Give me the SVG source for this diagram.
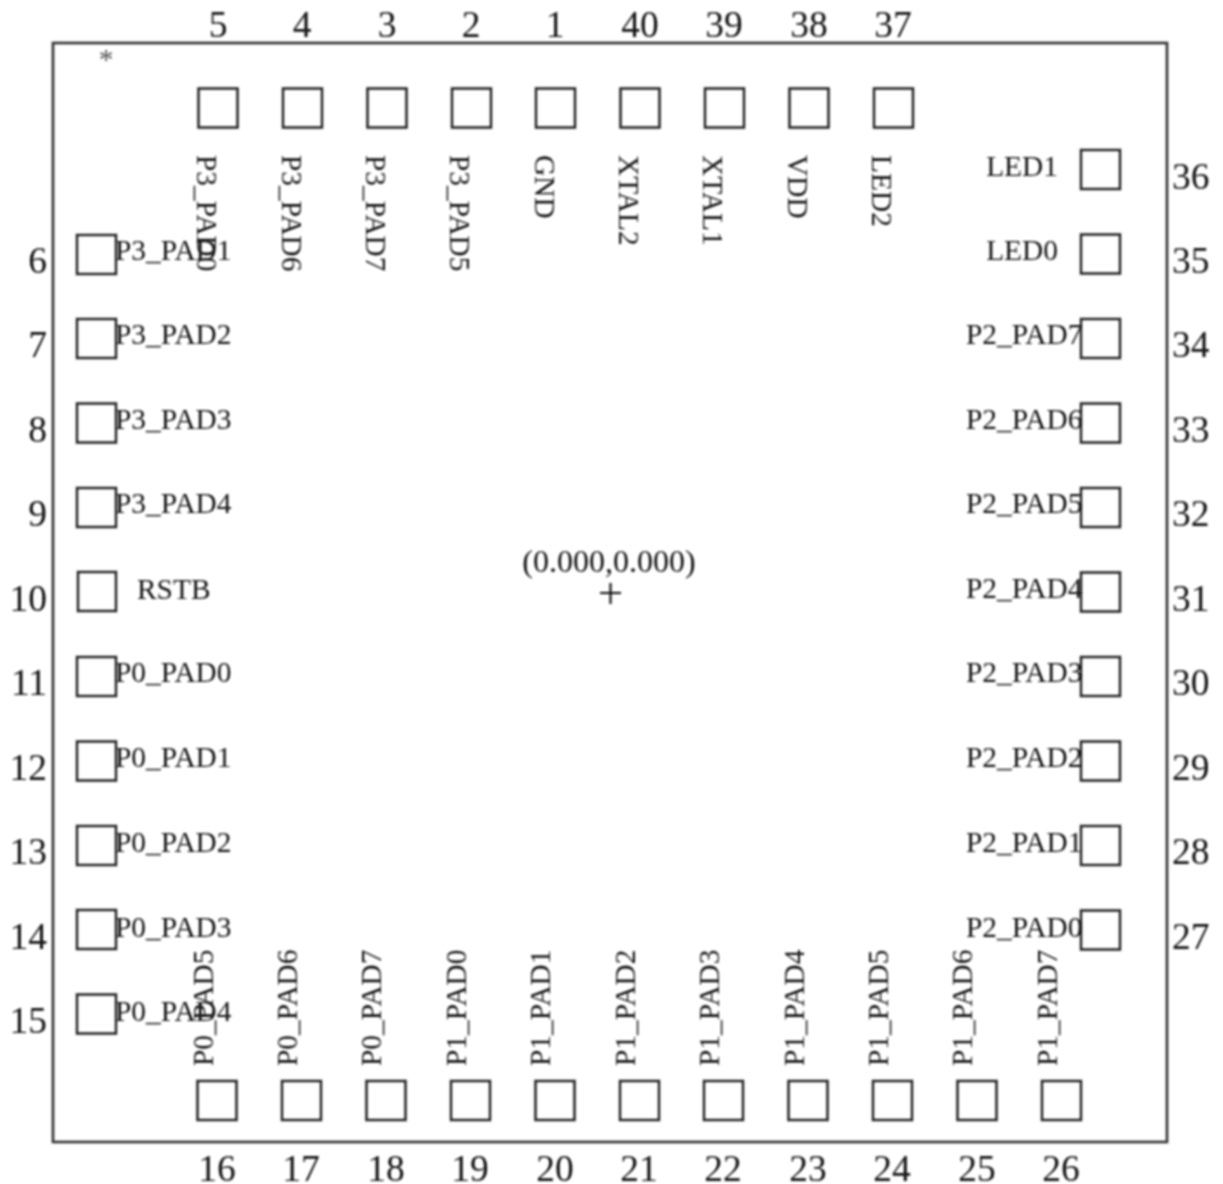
<svg xmlns="http://www.w3.org/2000/svg" width="1223" height="1184" viewBox="0 0 1223 1184">
<defs>
<style>
text{font-family:"Liberation Serif","Times New Roman",serif;fill:#151515}
.n{font-size:37.5px}
.l{font-size:29.4px}
.m{text-anchor:middle}
.e{text-anchor:end}
.p{fill:none;stroke:#222;stroke-width:2.5}
</style>
<filter id="b" x="0" y="0" width="1223" height="1184" filterUnits="userSpaceOnUse"><feGaussianBlur stdDeviation="0.8"/></filter>
</defs>
<rect width="1223" height="1184" fill="#fff"/>
<g filter="url(#b)">
<g id="outline"><rect x="53" y="43" width="1114" height="1099" fill="none" stroke="#333" stroke-width="2.6"/></g>
<g id="origin"><text class="m" style="font-size:32px" x="609" y="572">(0.000,0.000)</text><path d="M600 593H621M610.500 583V604" stroke="#111" stroke-width="2.2" fill="none"/></g>
<text id="marker" class="l m" style="fill:#555" x="106" y="69">*</text>

<g id="pin5"><rect class="p" x="198.500" y="88.500" width="39" height="39"/><text class="n m" x="218" y="37">5</text><text class="l" transform="translate(197 155) rotate(90)">P3_PAD0</text></g>
<g id="pin4"><rect class="p" x="283" y="88.500" width="39" height="39"/><text class="n m" x="302" y="37">4</text><text class="l" transform="translate(282 155) rotate(90)">P3_PAD6</text></g>
<g id="pin3"><rect class="p" x="367.500" y="88.500" width="39" height="39"/><text class="n m" x="387" y="37">3</text><text class="l" transform="translate(366 155) rotate(90)">P3_PAD7</text></g>
<g id="pin2"><rect class="p" x="452" y="88.500" width="39" height="39"/><text class="n m" x="471" y="37">2</text><text class="l" transform="translate(450 155) rotate(90)">P3_PAD5</text></g>
<g id="pin1"><rect class="p" x="536" y="88.500" width="39" height="39"/><text class="n m" x="555" y="37">1</text><text class="l" transform="translate(535 155) rotate(90)">GND</text></g>
<g id="pin40"><rect class="p" x="620.500" y="88.500" width="39" height="39"/><text class="n m" x="640" y="37">40</text><text class="l" transform="translate(619 155) rotate(90)">XTAL2</text></g>
<g id="pin39"><rect class="p" x="705" y="88.500" width="39" height="39"/><text class="n m" x="724" y="37">39</text><text class="l" transform="translate(703 155) rotate(90)">XTAL1</text></g>
<g id="pin38"><rect class="p" x="789.500" y="88.500" width="39" height="39"/><text class="n m" x="809" y="37">38</text><text class="l" transform="translate(788 155) rotate(90)">VDD</text></g>
<g id="pin37"><rect class="p" x="874" y="88.500" width="39" height="39"/><text class="n m" x="893" y="37">37</text><text class="l" transform="translate(872 155) rotate(90)">LED2</text></g>

<g id="pin6"><rect class="p" x="77" y="235" width="39" height="39"/><text class="n e" x="47" y="273">6</text><text class="l" x="115" y="260">P3_PAD1</text></g>
<g id="pin7"><rect class="p" x="77" y="319" width="39" height="39"/><text class="n e" x="47" y="357">7</text><text class="l" x="115" y="344">P3_PAD2</text></g>
<g id="pin8"><rect class="p" x="77" y="403.500" width="39" height="39"/><text class="n e" x="47" y="442">8</text><text class="l" x="115" y="429">P3_PAD3</text></g>
<g id="pin9"><rect class="p" x="77" y="488" width="39" height="39"/><text class="n e" x="47" y="526">9</text><text class="l" x="115" y="513">P3_PAD4</text></g>
<g id="pin10"><rect class="p" x="78" y="572" width="38" height="39"/><text class="n e" x="47" y="611">10</text><text class="l" x="137" y="599">RSTB</text></g>
<g id="pin11"><rect class="p" x="77" y="657" width="39" height="39"/><text class="n e" x="47" y="695">11</text><text class="l" x="115" y="682">P0_PAD0</text></g>
<g id="pin12"><rect class="p" x="77" y="741.500" width="39" height="39"/><text class="n e" x="47" y="780">12</text><text class="l" x="115" y="767">P0_PAD1</text></g>
<g id="pin13"><rect class="p" x="77" y="826" width="39" height="39"/><text class="n e" x="47" y="864">13</text><text class="l" x="115" y="852">P0_PAD2</text></g>
<g id="pin14"><rect class="p" x="77" y="910" width="39" height="39"/><text class="n e" x="47" y="949">14</text><text class="l" x="115" y="937">P0_PAD3</text></g>
<g id="pin15"><rect class="p" x="77" y="994.500" width="39" height="39"/><text class="n e" x="47" y="1033">15</text><text class="l" x="115" y="1021">P0_PAD4</text></g>

<g id="pin16"><rect class="p" x="197.500" y="1081" width="39" height="39"/><text class="n m" x="217" y="1181">16</text><text class="l" transform="translate(213 1066) rotate(-90)">P0_PAD5</text></g>
<g id="pin17"><rect class="p" x="282" y="1081" width="39" height="39"/><text class="n m" x="301" y="1181">17</text><text class="l" transform="translate(297 1066) rotate(-90)">P0_PAD6</text></g>
<g id="pin18"><rect class="p" x="366.500" y="1081" width="39" height="39"/><text class="n m" x="386" y="1181">18</text><text class="l" transform="translate(381 1066) rotate(-90)">P0_PAD7</text></g>
<g id="pin19"><rect class="p" x="451" y="1081" width="39" height="39"/><text class="n m" x="470" y="1181">19</text><text class="l" transform="translate(466 1066) rotate(-90)">P1_PAD0</text></g>
<g id="pin20"><rect class="p" x="535.500" y="1081" width="39" height="39"/><text class="n m" x="555" y="1181">20</text><text class="l" transform="translate(550 1066) rotate(-90)">P1_PAD1</text></g>
<g id="pin21"><rect class="p" x="620" y="1081" width="39" height="39"/><text class="n m" x="639" y="1181">21</text><text class="l" transform="translate(635 1066) rotate(-90)">P1_PAD2</text></g>
<g id="pin22"><rect class="p" x="704" y="1081" width="39" height="39"/><text class="n m" x="723" y="1181">22</text><text class="l" transform="translate(719 1066) rotate(-90)">P1_PAD3</text></g>
<g id="pin23"><rect class="p" x="788.500" y="1081" width="39" height="39"/><text class="n m" x="808" y="1181">23</text><text class="l" transform="translate(804 1066) rotate(-90)">P1_PAD4</text></g>
<g id="pin24"><rect class="p" x="873" y="1081" width="39" height="39"/><text class="n m" x="892" y="1181">24</text><text class="l" transform="translate(888 1066) rotate(-90)">P1_PAD5</text></g>
<g id="pin25"><rect class="p" x="957.500" y="1081" width="39" height="39"/><text class="n m" x="977" y="1181">25</text><text class="l" transform="translate(972 1066) rotate(-90)">P1_PAD6</text></g>
<g id="pin26"><rect class="p" x="1042" y="1081" width="39" height="39"/><text class="n m" x="1061" y="1181">26</text><text class="l" transform="translate(1057 1066) rotate(-90)">P1_PAD7</text></g>

<g id="pin27"><rect class="p" x="1081" y="910.500" width="39" height="39"/><text class="n" x="1172" y="949">27</text><text class="l e" x="1082.500" y="937">P2_PAD0</text></g>
<g id="pin28"><rect class="p" x="1081" y="826" width="39" height="39"/><text class="n" x="1172" y="864">28</text><text class="l e" x="1082.500" y="852">P2_PAD1</text></g>
<g id="pin29"><rect class="p" x="1081" y="741.500" width="39" height="39"/><text class="n" x="1172" y="780">29</text><text class="l e" x="1082.500" y="767">P2_PAD2</text></g>
<g id="pin30"><rect class="p" x="1081" y="657" width="39" height="39"/><text class="n" x="1172" y="695">30</text><text class="l e" x="1082.500" y="682">P2_PAD3</text></g>
<g id="pin31"><rect class="p" x="1081" y="572.500" width="39" height="39"/><text class="n" x="1172" y="611">31</text><text class="l e" x="1082.500" y="598">P2_PAD4</text></g>
<g id="pin32"><rect class="p" x="1081" y="488" width="39" height="39"/><text class="n" x="1172" y="526">32</text><text class="l e" x="1082.500" y="513">P2_PAD5</text></g>
<g id="pin33"><rect class="p" x="1081" y="403.500" width="39" height="39"/><text class="n" x="1172" y="442">33</text><text class="l e" x="1082.500" y="429">P2_PAD6</text></g>
<g id="pin34"><rect class="p" x="1081" y="319" width="39" height="39"/><text class="n" x="1172" y="357">34</text><text class="l e" x="1082.500" y="344">P2_PAD7</text></g>
<g id="pin35"><rect class="p" x="1081" y="234.500" width="39" height="39"/><text class="n" x="1172" y="273">35</text><text class="l e" x="1058" y="260">LED0</text></g>
<g id="pin36"><rect class="p" x="1081" y="150" width="39" height="39"/><text class="n" x="1172" y="189">36</text><text class="l e" x="1058" y="176">LED1</text></g>
</g>
<g id="connectors"/>
</svg>
